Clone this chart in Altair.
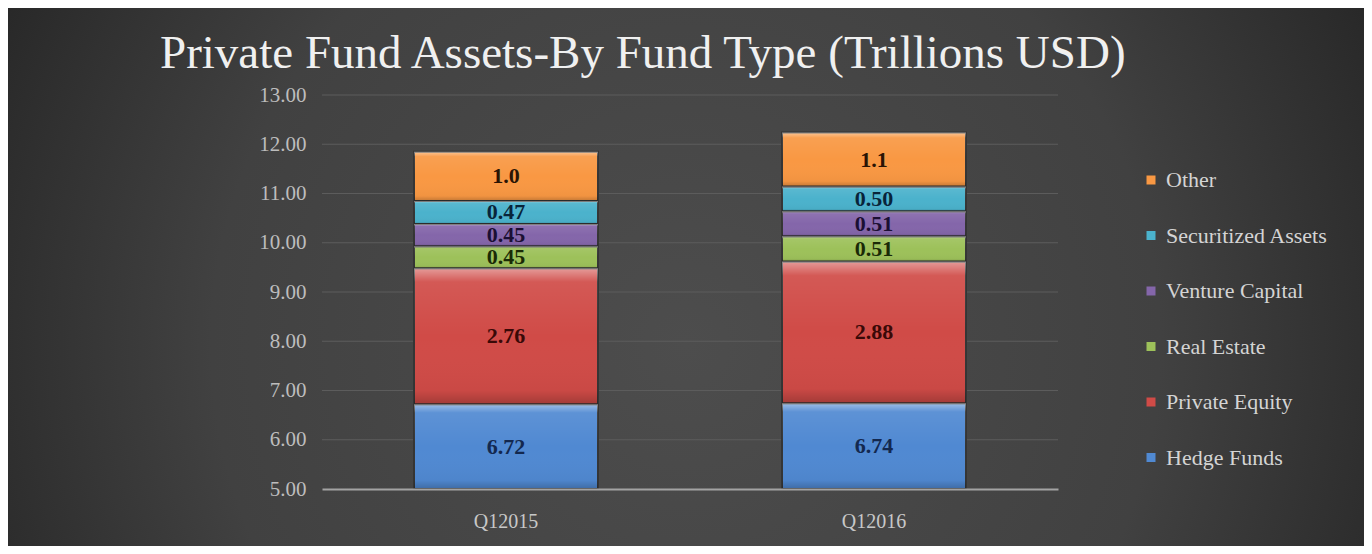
import altair as alt
import pandas as pd

# ---------------- data ----------------
quarters = ["Q12015", "Q12016"]
fund_types = ["Hedge Funds", "Private Equity", "Real Estate",
              "Venture Capital", "Securitized Assets", "Other"]
values_q12015 = [6.72, 2.76, 0.45, 0.45, 0.47, 1.0]
values_q12016 = [6.74, 2.88, 0.51, 0.51, 0.50, 1.1]
labels_q12015 = ["6.72", "2.76", "0.45", "0.45", "0.47", "1.0"]
labels_q12016 = ["6.74", "2.88", "0.51", "0.51", "0.50", "1.1"]
y_ticks = [5, 6, 7, 8, 9, 10, 11, 12, 13]

# ---------------- styles ----------------
fund_colors = ["#5089d2", "#d04b47", "#9dc15a", "#8466aa", "#4bb2cc", "#f99843"]
label_colors = ["#13284f", "#3a0907", "#1a2a06", "#1b0f33", "#08243a", "#2a1404"]
SERIF = "Liberation Serif"
Y_MIN, Y_MAX = 5, 13

rows = []
for q, vals, labs in [(quarters[0], values_q12015, labels_q12015),
                      (quarters[1], values_q12016, labels_q12016)]:
    start = 0.0
    for i, (f, v, lab) in enumerate(zip(fund_types, vals, labs)):
        end = start + v
        mid = (max(start, Y_MIN) + end) / 2
        rows.append({"quarter": q, "fund": f, "value": v, "start": start,
                     "end": end, "mid": mid, "label": lab,
                     "lc": label_colors[i]})
        start = end
df = pd.DataFrame(rows)
grid_df = pd.DataFrame({"start": [t for t in y_ticks if t != Y_MIN]})
bg_df = pd.DataFrame({"a": [0]})

W, H = 736, 394
PAD = {"left": 314, "top": 87, "right": 306, "bottom": 57}

yscale = alt.Scale(domain=[Y_MIN, Y_MAX], clamp=True, nice=False, zero=False)
xscale = alt.Scale(paddingInner=0.5, paddingOuter=0.25)

x_axis = alt.Axis(title=None, labelAngle=0, labelFont=SERIF,
                  labelFontSize=20, labelColor="#c8c8c8",
                  ticks=False, domain=True, domainColor="#a3a3a3",
                  domainWidth=2, labelPadding=22, grid=False, zindex=1)
y_axis = alt.Axis(title=None, values=y_ticks, format=".2f",
                  labelFont=SERIF, labelFontSize=21,
                  labelColor="#bdbdbd", ticks=False, domain=False,
                  grid=False, labelPadding=16, zindex=1)

x_enc = alt.X("quarter:N", sort=quarters, scale=xscale, axis=x_axis)

background = alt.Chart(bg_df).mark_rect(
    clip=False,
    fill=alt.RadialGradient(
        gradient="radial", x1=0.5, y1=0.55, x2=0.5, y2=0.55, r1=0, r2=0.7,
        stops=[alt.GradientStop(offset=0, color="#4d4d4d"),
               alt.GradientStop(offset=0.5, color="#414141"),
               alt.GradientStop(offset=1, color="#181818")]),
).encode(
    x=alt.value(-PAD["left"]), x2=alt.value(W + PAD["right"]),
    y=alt.value(-PAD["top"]), y2=alt.value(H + PAD["bottom"]),
)

grid = alt.Chart(grid_df).mark_rule(color="#5c5c5c", strokeWidth=1).encode(
    y=alt.Y("start:Q", scale=yscale, axis=y_axis)
)

bars = alt.Chart(df).mark_bar(stroke="#353535", strokeWidth=2).encode(
    x=x_enc,
    y=alt.Y("start:Q", scale=yscale, axis=y_axis),
    y2="end:Q",
    color=alt.Color("fund:N",
                    scale=alt.Scale(domain=fund_types[::-1],
                                    range=fund_colors[::-1]),
                    legend=alt.Legend(title=None)),
)

bevel = alt.Chart(df).mark_bar(
    strokeWidth=0,
    fill=alt.LinearGradient(
        gradient="linear", x1=0, y1=0, x2=0, y2=1,
        stops=[alt.GradientStop(offset=0, color="rgba(255,255,255,0.45)"),
               alt.GradientStop(offset=0.1, color="rgba(255,255,255,0.08)"),
               alt.GradientStop(offset=0.5, color="rgba(255,255,255,0)"),
               alt.GradientStop(offset=0.9, color="rgba(0,0,0,0.03)"),
               alt.GradientStop(offset=1, color="rgba(0,0,0,0.22)")]),
).encode(x=x_enc,
         y=alt.Y("start:Q", scale=yscale, axis=y_axis), y2="end:Q")

labels = alt.Chart(df).mark_text(
    font=SERIF, fontSize=22, fontWeight="bold", baseline="middle"
).encode(
    x=x_enc,
    y=alt.Y("mid:Q", scale=yscale, axis=y_axis),
    text="label:N",
    fill=alt.Fill("lc:N", scale=None),
)

chart = alt.layer(background, grid, bars, bevel, labels).properties(
    width=W, height=H,
    padding=PAD,
    autosize=alt.AutoSizeParams(type="none"),
    background="#2a2a2a",
    title=alt.TitleParams(
        text="Private Fund Assets-By Fund Type (Trillions USD)",
        font=SERIF, fontSize=47, fontWeight="normal", color="#f0f0f0",
        anchor="start", frame="group", dx=-162, dy=107, offset=0,
        baseline="alphabetic", zindex=1),
).configure_view(stroke=None).configure_legend(
    orient="none", legendX=818, legendY=74, labelFont=SERIF,
    labelFontSize=22, labelColor="#d4d4d4", symbolType="square",
    symbolSize=81, symbolStrokeWidth=0, rowPadding=33.5, labelOffset=4,
    labelLimit=300, padding=0, zindex=1,
)

chart.save("out.html", embed_options={"renderer": "svg", "actions": False})
